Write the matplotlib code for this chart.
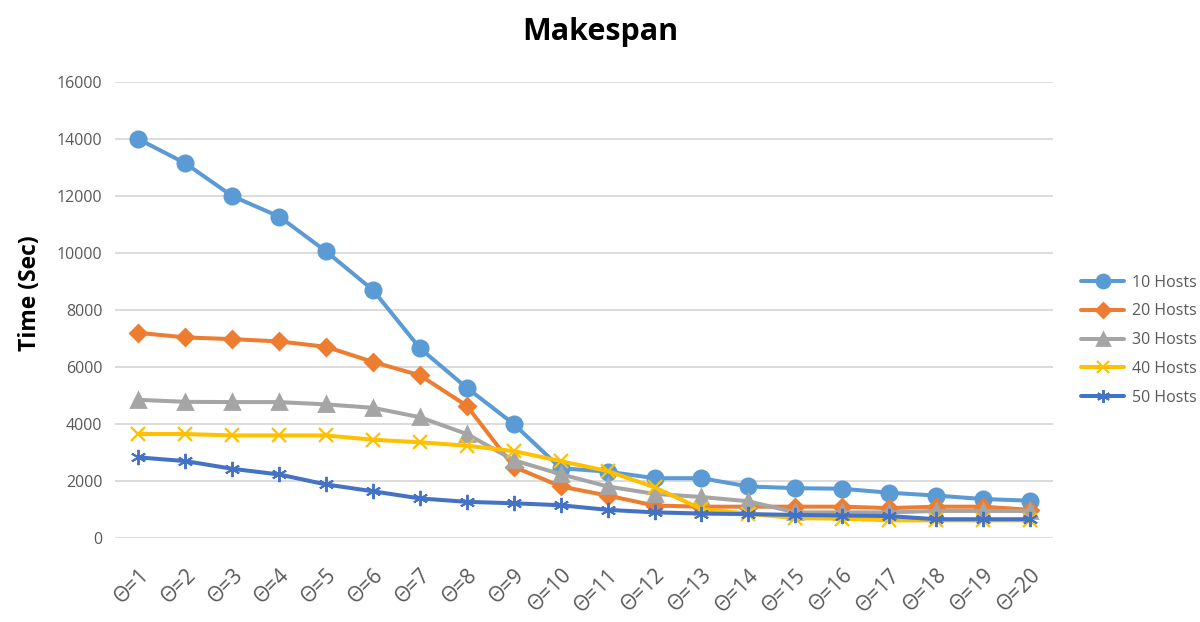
import matplotlib
matplotlib.use("Agg")
import matplotlib.pyplot as plt

plt.rcParams['font.family'] = ['Open Sans', 'DejaVu Sans']

categories = ["Θ=%d" % i for i in range(1, 21)]
hosts10 = [14000, 13150, 12000, 11280, 10060, 8700, 6660, 5270, 4000, 2450,
           2330, 2100, 2100, 1810, 1750, 1730, 1590, 1490, 1370, 1310]
hosts20 = [7200, 7040, 6980, 6900, 6710, 6180, 5710, 4640, 2500, 1810,
           1490, 1140, 1100, 1100, 1100, 1100, 1050, 1100, 1100, 990]
hosts30 = [4850, 4780, 4770, 4770, 4690, 4570, 4240, 3650, 2730, 2240,
           1810, 1550, 1440, 1290, 900, 900, 900, 950, 950, 950]
hosts40 = [3650, 3650, 3600, 3600, 3600, 3450, 3360, 3240, 3050, 2700,
           2350, 1780, 1020, 850, 700, 680, 620, 620, 620, 620]
hosts50 = [2830, 2700, 2430, 2230, 1880, 1640, 1390, 1270, 1220, 1150,
           990, 900, 860, 840, 810, 790, 770, 660, 660, 660]
yticks = [0, 2000, 4000, 6000, 8000, 10000, 12000, 14000, 16000]

series = [
    ("10 Hosts", hosts10, "#5B9BD5", "o", 11, 2.0),
    ("20 Hosts", hosts20, "#ED7D31", "D", 8.5, 2.0),
    ("30 Hosts", hosts30, "#A5A5A5", "^", 10, 2.0),
    ("40 Hosts", hosts40, "#FFC000", "x", 10, 1.6),
    ("50 Hosts", hosts50, "#4472C4", (6, 2, 0), 11, 1.4),
]

fig = plt.figure(figsize=(12, 6.22), dpi=100)
ax = fig.add_axes([0.0958, 0.135, 0.782, 0.733])

x = list(range(len(categories)))
for name, vals, col, mk, ms, mew in series:
    ax.plot(x, vals, color=col, lw=2.9, marker=mk, markersize=ms,
            markeredgewidth=mew, markeredgecolor=col, markerfacecolor=col,
            label=name, solid_capstyle='round', solid_joinstyle='round')

ax.set_xlim(-0.5, len(categories) - 0.5)
ax.set_ylim(0, 16000)
ax.set_yticks(yticks)
ax.set_yticklabels([str(v) for v in yticks], fontsize=11.5, color="#595959")
ax.set_xticks(x)
ax.set_xticklabels(categories, rotation=45, ha='right', rotation_mode='anchor',
                   fontsize=15, color="#595959")
ax.tick_params(axis='x', length=0, pad=19)
ax.tick_params(axis='y', length=0, pad=9)
ax.grid(axis='y', color="#D9D9D9", lw=1.3)
ax.set_axisbelow(True)
for s in ax.spines.values():
    s.set_visible(False)

ax.set_ylabel("Time (Sec)", fontsize=16.5, fontweight='bold', color='black')
ax.yaxis.set_label_coords(-0.078, 0.538)
fig.suptitle("Makespan", fontsize=22, fontweight='bold', y=0.972)

leg = ax.legend(loc='center left', bbox_to_anchor=(1.029, 0.434), frameon=False,
                fontsize=11.5, labelcolor="#595959", handlelength=2.75,
                handletextpad=0.5, labelspacing=0.8, borderpad=0, borderaxespad=0,
                markerscale=0.85)

fig.savefig("out.png", dpi=100)
